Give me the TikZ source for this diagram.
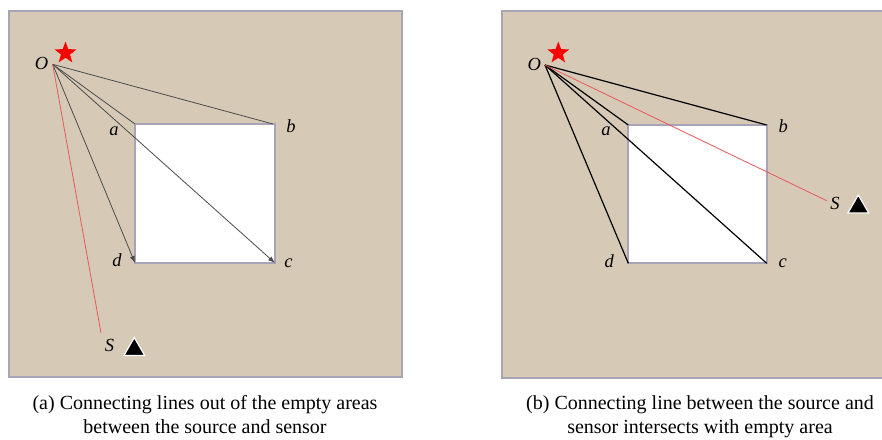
\documentclass[tikz,border=0pt]{standalone}
\usepackage{fontspec}
\setmainfont{Liberation Serif}
\usetikzlibrary{arrows.meta,shapes.geometric}
\definecolor{bg}{HTML}{D6CAB6}
\definecolor{frame}{HTML}{A9A3B8}
\definecolor{redline}{HTML}{E8585A}
\tikzset{
  panel/.style={draw=frame,line width=2.2pt,fill=bg},
  hole/.style={draw=frame,line width=2pt,fill=white},
  lbl/.style={font=\fontsize{18.5}{18.5}\selectfont\itshape,inner sep=0pt},
  srcstar/.style={star,star points=5,star point ratio=2.4,fill=red,draw=none,minimum size=23pt,inner sep=0pt},
  sensor/.style={regular polygon,regular polygon sides=3,fill=black,draw=white,line width=1.2pt,minimum size=24pt,inner sep=0pt},
  rayA/.style={draw=black!70,line width=0.8pt},
  rayB/.style={draw=black,line width=1.2pt},
  redray/.style={draw=redline,line width=0.8pt},
  tipend/.style={-{Latex[length=7pt,width=5pt]}},
  captext/.style={font=\fontsize{20}{24}\selectfont,anchor=base,inner sep=0pt}
}
\begin{document}
\begin{tikzpicture}[x=1pt,y=-1pt]
\clip (0,0) rectangle (882,439);
\fill[white] (0,0) rectangle (882,439);
% ---------- panel (a) ----------
\draw[panel] (9,11) rectangle (402,377);
\draw[hole] (135,124) rectangle (275,263);
\coordinate (Oa) at (52.7,64.3);
\coordinate (aa) at (135,124);
\coordinate (ba) at (273,124);
\coordinate (ca) at (275,263);
\coordinate (da) at (135,263);
\coordinate (Sa) at (101,333);
\draw[rayA] (Oa) -- (aa);
\draw[rayA] (Oa) -- (ba);
\draw[rayA,tipend] (Oa) -- (ca);
\draw[rayA,tipend] (Oa) -- (da);
\draw[redray] (Oa) -- (Sa);
\node[srcstar] (stara) at (65.5,53) {};
\node[lbl] (Ola) at (41.5,63.5) {O};
\node[lbl] (ala) at (114,131) {a};
\node[lbl] (bla) at (291,126) {b};
\node[lbl] (cla) at (288.5,263) {c};
\node[lbl] (dla) at (117,260.5) {d};
\node[lbl] (Sla) at (109.5,345) {S};
\node[sensor] (tria) at (134.3,349.5) {};
% ---------- panel (b) ----------
\draw[panel] (502,11) rectangle (895,378);
\draw[hole] (628.3,125) rectangle (766.7,263.3);
\coordinate (Ob) at (545,65);
\coordinate (ab) at (628.3,125);
\coordinate (bb) at (766.7,125);
\coordinate (cb) at (766.7,263.3);
\coordinate (db) at (628.3,263.3);
\coordinate (Sb) at (826.7,200.7);
\draw[rayB] (Ob) -- (ab);
\draw[rayB] (Ob) -- (bb);
\draw[rayB] (Ob) -- (cb);
\draw[rayB] (Ob) -- (db);
\draw[redray] (Ob) -- (Sb);
\node[srcstar] (starb) at (558.3,53) {};
\node[lbl] (Olb) at (534.3,64) {O};
\node[lbl] (alb) at (606,131) {a};
\node[lbl] (blb) at (783.3,126) {b};
\node[lbl] (clb) at (782.7,263) {c};
\node[lbl] (dlb) at (609.3,261) {d};
\node[lbl] (Slb) at (835,203) {S};
\node[sensor] (trib) at (858.3,207) {};
% ---------- captions ----------
\node[captext] (capa1) at (205,409) {(a) Connecting lines out of the empty areas};
\node[captext] (capa2) at (205,433) {between the source and sensor};
\node[captext] (capb1) at (700,409) {(b) Connecting line between the source and};
\node[captext] (capb2) at (700,433) {sensor intersects with empty area};
\end{tikzpicture}
\end{document}
